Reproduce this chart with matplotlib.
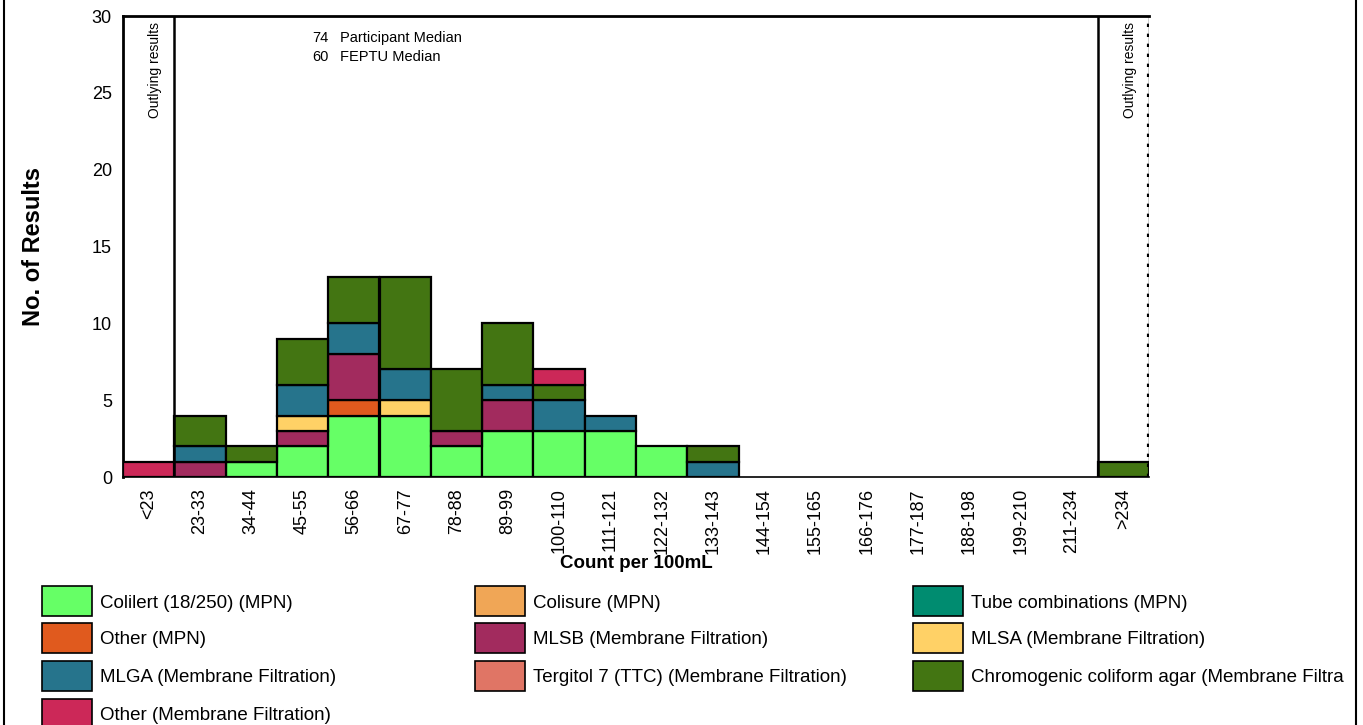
import numpy as np
import matplotlib.pyplot as plt
from matplotlib.patches import Rectangle
from matplotlib.lines import Line2D

plt.rcParams['font.family'] = ['Liberation Sans', 'DejaVu Sans']

# bins along the x axis
bins = ['<23', '23-33', '34-44', '45-55', '56-66', '67-77', '78-88', '89-99',
        '100-110', '111-121', '122-132', '133-143', '144-154', '155-165',
        '166-176', '177-187', '188-198', '199-210', '211-234', '>234']

# counts per method, one value per bin
colilert     = [0, 0, 1, 2, 4, 4, 2, 3, 3, 3, 2, 0, 0, 0, 0, 0, 0, 0, 0, 0]
colisure     = [0] * 20
tube_comb    = [0] * 20
other_mpn    = [0, 0, 0, 0, 1, 0, 0, 0, 0, 0, 0, 0, 0, 0, 0, 0, 0, 0, 0, 0]
mlsb         = [0, 1, 0, 1, 3, 0, 1, 2, 0, 0, 0, 0, 0, 0, 0, 0, 0, 0, 0, 0]
mlsa         = [0, 0, 0, 1, 0, 1, 0, 0, 0, 0, 0, 0, 0, 0, 0, 0, 0, 0, 0, 0]
mlga         = [0, 1, 0, 2, 2, 2, 0, 1, 2, 1, 0, 1, 0, 0, 0, 0, 0, 0, 0, 0]
tergitol     = [0] * 20
chromogenic  = [0, 2, 1, 3, 3, 6, 4, 4, 1, 0, 0, 1, 0, 0, 0, 0, 0, 0, 0, 1]
other_mf     = [1, 0, 0, 0, 0, 0, 0, 0, 1, 0, 0, 0, 0, 0, 0, 0, 0, 0, 0, 0]

participant_median = 74
feptu_median = 60

# legend order (row-wise, 3 columns)
legend_items = [
    ('Colilert (18/250) (MPN)', colilert, '#66ff66'),
    ('Colisure (MPN)', colisure, '#f0a656'),
    ('Tube combinations (MPN)', tube_comb, '#008c70'),
    ('Other (MPN)', other_mpn, '#e05a1e'),
    ('MLSB (Membrane Filtration)', mlsb, '#a22b5e'),
    ('MLSA (Membrane Filtration)', mlsa, '#ffd166'),
    ('MLGA (Membrane Filtration)', mlga, '#26748c'),
    ('Tergitol 7 (TTC) (Membrane Filtration)', tergitol, '#e07565'),
    ('Chromogenic coliform agar (Membrane Filtration)', chromogenic, '#437512'),
    ('Other (Membrane Filtration)', other_mf, '#cc2858'),
]
# stacking order bottom -> top
stack_names = ['Colilert (18/250) (MPN)', 'Colisure (MPN)', 'Tube combinations (MPN)',
               'Other (MPN)', 'MLSB (Membrane Filtration)', 'MLSA (Membrane Filtration)',
               'MLGA (Membrane Filtration)', 'Tergitol 7 (TTC) (Membrane Filtration)',
               'Chromogenic coliform agar (Membrane Filtration)', 'Other (Membrane Filtration)']

W, H = 1363, 725
fig = plt.figure(figsize=(W / 100, H / 100), dpi=100)
ax = fig.add_axes([123 / W, (H - 477) / H, 1026 / W, 461 / H])

x = np.arange(len(bins))
bottom = np.zeros(len(bins))
lookup = {name: (vals, col) for name, vals, col in legend_items}
for name in stack_names:
    vals, col = lookup[name]
    vals = np.array(vals, dtype=float)
    mask = vals > 0
    ax.bar(x[mask], vals[mask], bottom=bottom[mask], width=1.0, color=col,
           edgecolor='black', linewidth=1.6, zorder=3)
    bottom += vals

ax.set_xlim(-0.5, len(bins) - 0.5)
ax.set_ylim(0, 30)
ax.set_yticks(range(0, 31, 5))
ax.set_xticks(x)
ax.set_xticklabels(bins, rotation=90, fontsize=13)
ax.tick_params(axis='y', length=0, pad=8, labelsize=13)
ax.tick_params(axis='x', length=0, pad=8)
ax.spines['right'].set_visible(False)
ax.spines['left'].set_linewidth(2)
ax.spines['top'].set_linewidth(2)
ax.spines['bottom'].set_linewidth(1.2)

# outlier separators
ax.axvline(0.5, color='black', linewidth=1.8, zorder=4)
ax.axvline(len(bins) - 1.5, color='black', linewidth=1.8, zorder=4)
ax.axvline(len(bins) - 0.5, color='black', linewidth=1.0, zorder=4)
ax.axvline(len(bins) - 0.5, color='black', linewidth=3, linestyle=(0, (0.8, 1.6)), zorder=4)

ax.text(0.13, 29.6, 'Outlying results', rotation=90, ha='center', va='top', fontsize=10)
ax.text(len(bins) - 0.87, 29.6, 'Outlying results', rotation=90, ha='center', va='top', fontsize=10)

ax.text(3.5, 28.6, str(participant_median), fontsize=10.5, va='center', ha='right')
ax.text(3.73, 28.6, 'Participant Median', fontsize=10.5, va='center')
ax.text(3.5, 27.35, str(feptu_median), fontsize=10.5, va='center', ha='right')
ax.text(3.73, 27.35, 'FEPTU Median', fontsize=10.5, va='center')

ax.set_ylabel('No. of Results', fontsize=17, fontweight='bold', va='center')
ax.yaxis.set_label_coords(-90 / 1026, 0.5)
ax.set_xlabel('Count per 100mL', fontsize=13.5, fontweight='bold', va='center')
ax.xaxis.set_label_coords(0.5, -(564 - 477) / 461)

# legend drawn by hand in pixel coordinates
col_x = [42, 475, 913]
row_y = [601, 638, 676, 714]
for i, (name, vals, col) in enumerate(legend_items):
    r, c = divmod(i, 3)
    px, py = col_x[c], row_y[r]
    fig.patches.append(Rectangle((px / W, (H - py - 15) / H), 50 / W, 30 / H,
                                 transform=fig.transFigure, facecolor=col,
                                 edgecolor='black', linewidth=1.2))
    fig.text((px + 58) / W, (H - py - 2) / H, name, fontsize=13.5, va='center')

# mask overflow at the right edge, then frame lines
fig.patches.append(Rectangle((1344 / W, 0), 20 / W, 1, transform=fig.transFigure,
                             facecolor='white', edgecolor='none', zorder=10))
fig.add_artist(Line2D([3.5 / W, 3.5 / W], [0, 1], color='black', linewidth=1.5, zorder=11))
fig.add_artist(Line2D([1355.5 / W, 1355.5 / W], [0, 1], color='black', linewidth=1.5, zorder=11))

fig.savefig('out.png', dpi=100)
